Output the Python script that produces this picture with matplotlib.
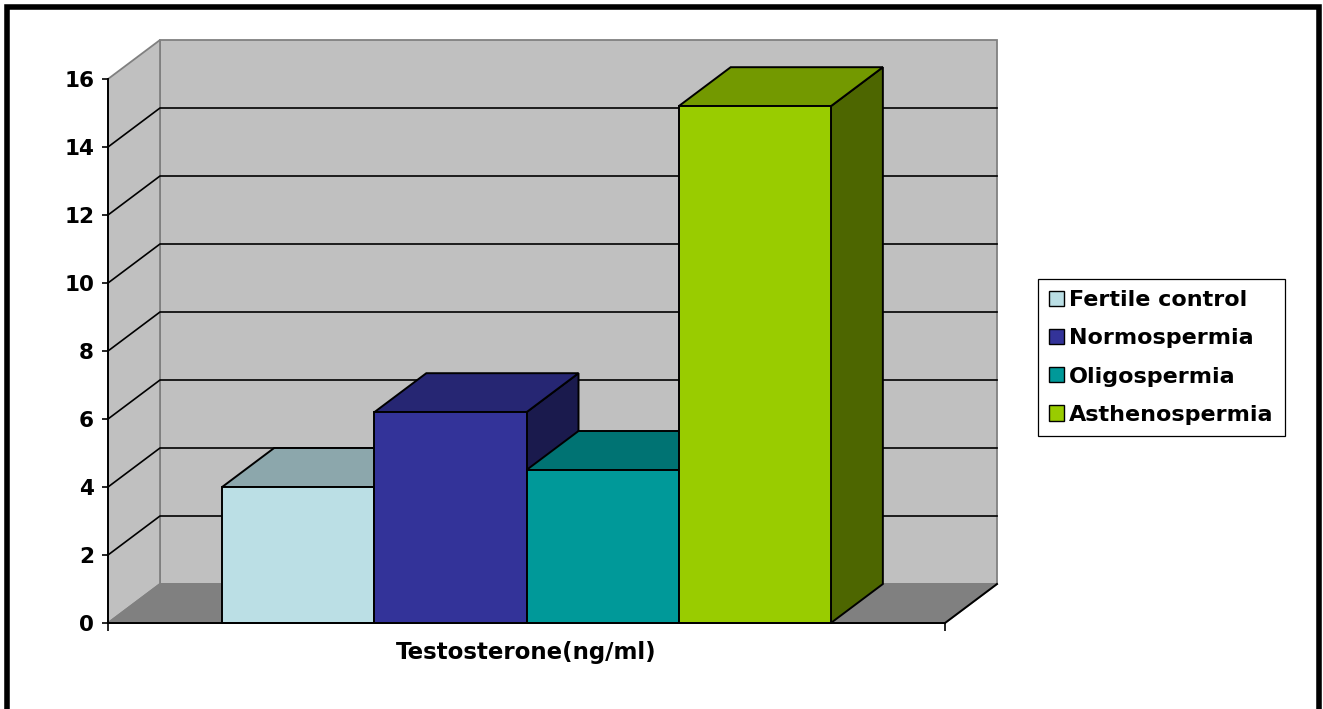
import matplotlib
matplotlib.use('Agg')
import matplotlib.pyplot as plt
from matplotlib.patches import Polygon, Rectangle, Patch
from matplotlib.colors import to_rgb
import numpy as np

groups = ['Fertile control', 'Normospermia', 'Oligospermia', 'Asthenospermia']
testosterone = [4.0, 6.2, 4.5, 15.2]
bar_colors = ['#BBDFE5', '#333399', '#009999', '#99CC00']
y_ticks = [0, 2, 4, 6, 8, 10, 12, 14, 16]
x_label = 'Testosterone(ng/ml)'

plt.rcParams['font.family'] = ['DejaVu Sans']
plt.rcParams['font.weight'] = 'bold'
FS = 15.5

W, H = 1323, 709
fig = plt.figure(figsize=(W / 100, H / 100), dpi=100)
ax = fig.add_axes([108 / W, 86 / H, 837 / W, 544 / H])
x0, x1 = -0.75, len(groups) + 0.75
ymax = y_ticks[-1]
ax.set_xlim(x0, x1)
ax.set_ylim(0, ymax)
ax.patch.set_visible(False)

# depth of the 3d box: 52 px right, 39 px up
pos = ax.get_position()
px_x = pos.width * W / (x1 - x0)
px_y = pos.height * H / ymax
dx, dy = 52 / px_x, 39 / px_y


def shade(c, f):
    return tuple(np.array(to_rgb(c)) * f)


wall = '#C0C0C0'
edge = '#808080'
back = Polygon([(x0 + dx, dy), (x1 + dx, dy), (x1 + dx, ymax + dy), (x0 + dx, ymax + dy)],
               fc=wall, ec=edge, lw=1.3, clip_on=False, zorder=1)
side = Polygon([(x0, 0), (x0 + dx, dy), (x0 + dx, ymax + dy), (x0, ymax)],
               fc=wall, ec=edge, lw=1.3, clip_on=False, zorder=1)
floor = Polygon([(x0, 0), (x1, 0), (x1 + dx, dy), (x0 + dx, dy)],
                fc='#808080', ec=edge, lw=1.3, clip_on=False, zorder=1.1)
for p in (back, side, floor):
    ax.add_patch(p)
ax.plot([x1, x1 + dx], [0, dy], color='k', lw=1.4, clip_on=False, zorder=1.2)

# gridlines across side wall and back wall
for t in y_ticks[1:-1]:
    ax.plot([x0, x0 + dx, x1 + dx], [t, t + dy, t + dy], color='k', lw=1.2,
            clip_on=False, zorder=1.5)

# bars, left to right so each one hides the side of the previous
for i, (v, c) in enumerate(zip(testosterone, bar_colors)):
    z = 3 + i
    kw = dict(ec='k', lw=1.4, clip_on=False, zorder=z, joinstyle='miter')
    ax.add_patch(Polygon([(i + 1, 0), (i + 1 + dx, dy), (i + 1 + dx, v + dy), (i + 1, v)],
                         fc=shade(c, 0.5), **kw))
    ax.add_patch(Polygon([(i, v), (i + 1, v), (i + 1 + dx, v + dy), (i + dx, v + dy)],
                         fc=shade(c, 0.75), **kw))
    ax.add_patch(Rectangle((i, 0), 1, v, fc=c, **kw))

for s in ('top', 'right'):
    ax.spines[s].set_visible(False)
for s in ('left', 'bottom'):
    ax.spines[s].set_color('k')
    ax.spines[s].set_linewidth(1.4)
    ax.spines[s].set_zorder(10)

ax.set_yticks(y_ticks)
ax.set_yticklabels([str(t) for t in y_ticks])
ax.tick_params(axis='y', direction='out', length=4.5, width=1.2, labelsize=FS, pad=5.5)
ax.set_xticks([x0, x1])
ax.set_xticklabels(['', ''])
ax.tick_params(axis='x', direction='out', length=5.5, width=1.2)

ax.set_xlabel(x_label, fontsize=FS + 1, fontweight='bold')
ax.xaxis.set_label_coords(0.5, -0.033)

handles = [Patch(fc=c, ec='k', lw=1.0) for c in bar_colors]
leg = fig.legend(handles, groups, loc='center left',
                 bbox_to_anchor=(1038 / W, 1 - 357.5 / H),
                 frameon=True, fancybox=False, edgecolor='k', framealpha=1,
                 prop={'weight': 'bold', 'size': FS + 0.5},
                 handlelength=0.68, handleheight=0.68, handletextpad=0.22,
                 labelspacing=0.82, borderpad=0.5, borderaxespad=0)
leg.get_frame().set_linewidth(0.9)

# outer frame
fig.add_artist(Rectangle((6.5 / W, -0.02), (1318.5 - 6.5) / W, 1.02 - 6.5 / H,
                         transform=fig.transFigure, fill=False, ec='k', lw=4))

fig.savefig('out.png', dpi=100)
